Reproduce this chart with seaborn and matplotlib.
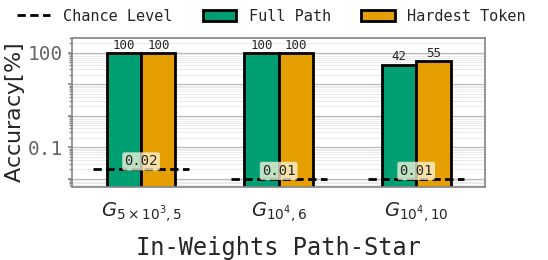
import numpy as np
import pandas as pd
import matplotlib
matplotlib.use("Agg")
import matplotlib.pyplot as plt
import matplotlib.ticker as mticker
from matplotlib.patches import Patch
from matplotlib.lines import Line2D
import seaborn as sns

# chart data
graphs = [r"$G_{5\times10^3,5}$", r"$G_{10^4,6}$", r"$G_{10^4,10}$"]
full_path = [100, 100, 42]
hardest_token = [100, 100, 55]
chance = [0.02, 0.01, 0.01]
chance_labels = ["0.02", "0.01", "0.01"]

df = pd.DataFrame({
    "graph": graphs * 2,
    "acc": full_path + hardest_token,
    "metric": ["Full Path"] * 3 + ["Hardest Token"] * 3,
})

sns.set_theme(style="whitegrid")
mono = "DejaVu Sans Mono"

fig = plt.figure(figsize=(5.48, 2.6), dpi=100)
ax = fig.add_axes([0.132, 0.282, 0.753, 0.572])

colors = ["#009e73", "#e69f00"]
sns.barplot(data=df, x="graph", y="acc", hue="metric", palette=colors, saturation=1,
            width=0.5, edgecolor="black", linewidth=2, ax=ax, legend=False)
ax.set_yscale("log")

# value labels
for cont in ax.containers:
    ax.bar_label(cont, fmt="%d", fontsize=9, family=mono, padding=1)

# chance level
dash = (0, (3, 1.6))
for i, c in enumerate(chance):
    ax.hlines(c, i - 0.35, i + 0.35, colors="black", linestyles=dash, linewidth=2, zorder=5)
    ax.text(i, c * 1.05, chance_labels[i], ha="center", va="bottom", fontsize=10,
            family=mono, zorder=6,
            bbox=dict(boxstyle="round,pad=0.15", facecolor="#fff8e0", edgecolor="none", alpha=0.75))

ax.set_xlim(-0.5, 2.5)
ax.set_ylim(0.0055, 300)
ax.yaxis.set_major_locator(mticker.FixedLocator([0.001, 0.01, 0.1, 1, 10, 100, 1000]))
ax.yaxis.set_major_formatter(mticker.FuncFormatter(lambda v, p: {0.1: "0.1", 100: "100"}.get(round(v, 4), "")))
ax.yaxis.set_minor_locator(mticker.LogLocator(base=10, subs=np.arange(2, 10), numticks=20))
ax.yaxis.set_minor_formatter(mticker.NullFormatter())
ax.grid(True, which="major", axis="y", color="#bbbbbb", linewidth=0.9)
ax.grid(True, which="minor", axis="y", color="#e6e6e6", linewidth=0.6)
ax.grid(False, axis="x")
ax.set_axisbelow(True)
ax.tick_params(axis="y", which="both", left=True, length=3, color="#888888", labelsize=14, labelcolor="#666666")
ax.tick_params(axis="y", which="minor", length=2)
for t in ax.get_yticklabels():
    t.set_family(mono)
ax.tick_params(axis="x", labelsize=14, pad=4)
for s in ax.spines.values():
    s.set_color("#888888")

ax.set_xlabel("In-Weights Path-Star", family=mono, fontsize=17, labelpad=8)
ax.set_ylabel(r"Accuracy$[\%]$", fontsize=16, labelpad=1)

handles = [Line2D([0], [0], color="black", linestyle=dash, linewidth=2),
           Patch(facecolor=colors[0], edgecolor="black", linewidth=2),
           Patch(facecolor=colors[1], edgecolor="black", linewidth=2)]
fig.legend(handles, ["Chance Level", "Full Path", "Hardest Token"], loc="upper center",
           bbox_to_anchor=(0.495, 1.02), ncol=3, frameon=False, prop={"family": mono, "size": 11},
           handlelength=2.2, columnspacing=2.0)

fig.savefig("out.png", dpi=100)
